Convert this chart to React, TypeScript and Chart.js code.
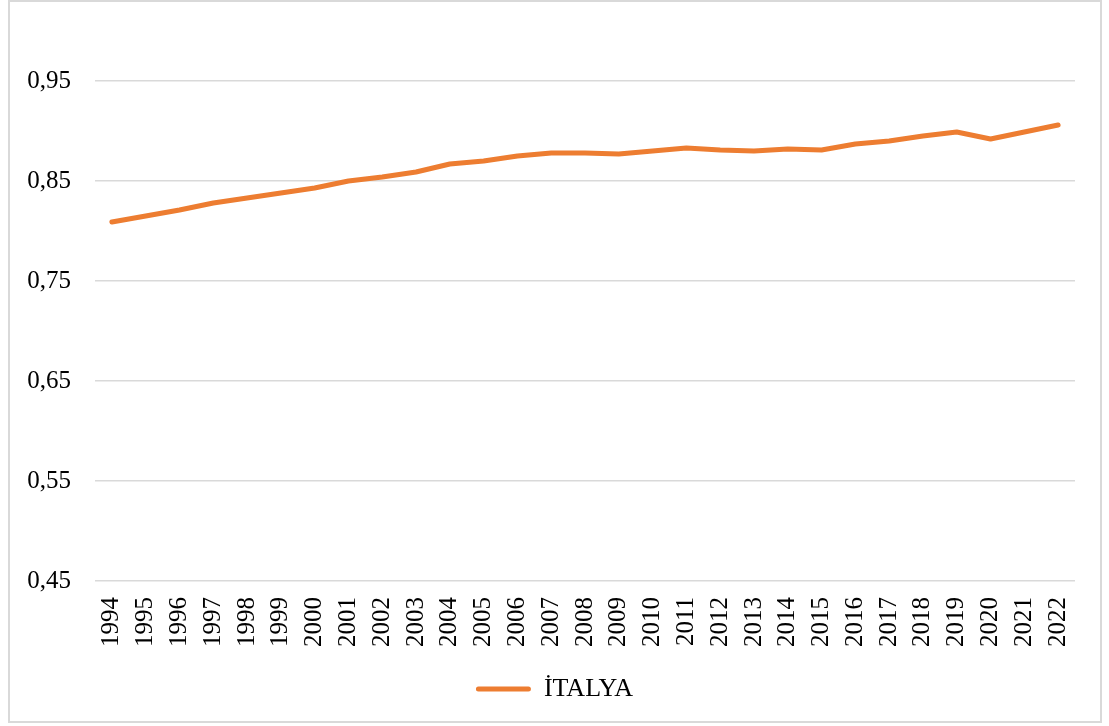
import React, { useEffect, useRef } from "react";
import { Chart, registerables } from "chart.js";

Chart.register(...registerables);

const years = [
  "1994", "1995", "1996", "1997", "1998", "1999", "2000", "2001", "2002", "2003",
  "2004", "2005", "2006", "2007", "2008", "2009", "2010", "2011", "2012", "2013",
  "2014", "2015", "2016", "2017", "2018", "2019", "2020", "2021", "2022",
];

const italyValues = [
  0.809, 0.815, 0.821, 0.828, 0.833, 0.838, 0.843, 0.85, 0.854, 0.859,
  0.867, 0.87, 0.875, 0.878, 0.878, 0.877, 0.88, 0.883, 0.881, 0.88,
  0.882, 0.881, 0.887, 0.89, 0.895, 0.899, 0.892, 0.899, 0.906,
];

const yTickValues = [0.45, 0.55, 0.65, 0.75, 0.85, 0.95];
const seriesLabel = "İTALYA";
const FONT = "Liberation Serif";

export default function App() {
  const ref = useRef<HTMLCanvasElement | null>(null);

  useEffect(() => {
    if (!ref.current) return;
    const chart = new Chart(ref.current, {
      type: "line",
      data: {
        labels: years,
        datasets: [
          {
            label: seriesLabel,
            data: italyValues,
            borderColor: "#ED7D31",
            backgroundColor: "#ED7D31",
            borderWidth: 5,
            pointRadius: 0,
            tension: 0,
            borderCapStyle: "round",
            borderJoinStyle: "round",
          },
        ],
      },
      options: {
        animation: false,
        responsive: false,
        maintainAspectRatio: false,
        layout: { padding: { left: 0, right: 0, top: 31, bottom: 14 } },
        plugins: {
          tooltip: { enabled: false },
          legend: {
            position: "bottom",
            labels: {
              font: { family: FONT, size: 26 },
              color: "#000",
              boxWidth: 55,
              boxHeight: 5,
              padding: 10,
              useBorderRadius: true,
              borderRadius: 2.5,
              generateLabels: (c: any) =>
                c.data.datasets.map((ds: any, i: number) => ({
                  text: ds.label,
                  fillStyle: ds.borderColor,
                  strokeStyle: ds.borderColor,
                  lineWidth: 0,
                  hidden: false,
                  datasetIndex: i,
                  fontColor: "#000",
                  borderRadius: 2.5,
                })),
            },
          },
        },
        scales: {
          x: {
            offset: true,
            afterFit: (scale: any) => {
              scale.height = 85;
            },
            grid: { display: false, drawTicks: false },
            border: { display: false },
            ticks: {
              font: { family: FONT, size: 25 },
              color: "#000",
              maxRotation: 90,
              minRotation: 90,
              autoSkip: false,
              padding: 16,
            },
          },
          y: {
            min: 0.45,
            max: 1.0,
            afterBuildTicks: (scale: any) => {
              scale.ticks = yTickValues.map((v) => ({ value: v }));
            },
            afterFit: (scale: any) => {
              scale.width = 95;
            },
            grid: {
              color: "#d9d9d9",
              lineWidth: 1.5,
              drawTicks: true,
              tickLength: 24,
              tickColor: "rgba(0,0,0,0)",
            },
            border: { display: false },
            ticks: {
              font: { family: FONT, size: 25 },
              color: "#000",
              padding: 0,
              callback: (v: any) => Number(v).toFixed(2).replace(".", ","),
            },
          },
          yRight: {
            type: "linear",
            position: "right",
            min: 0.45,
            max: 1.0,
            afterFit: (scale: any) => {
              scale.width = 34;
            },
            grid: { display: false, drawTicks: false },
            border: { display: false },
            ticks: { display: false },
          },
        },
      },
    });
    return () => chart.destroy();
  }, []);

  return (
    <div style={{ position: "absolute", left: 0, top: 0, width: 1109, height: 726, background: "#fff" }}>
      <canvas ref={ref} width={1109} height={726} style={{ position: "absolute", left: 0, top: 0 }} />
      <div
        style={{
          position: "absolute",
          left: 8,
          top: 0,
          width: 1094,
          height: 723,
          border: "2px solid #d9d9d9",
          boxSizing: "border-box",
          pointerEvents: "none",
        }}
      />
    </div>
  );
}
